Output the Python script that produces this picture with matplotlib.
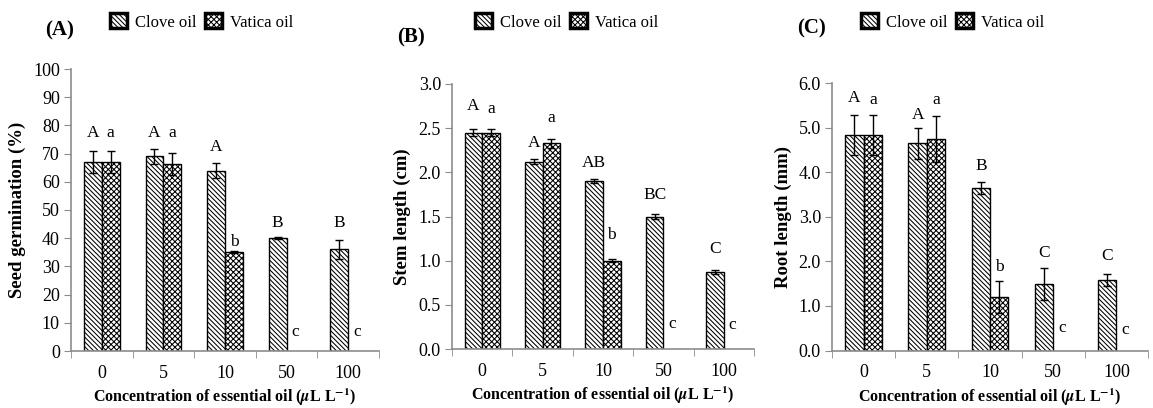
import numpy as np
import matplotlib
matplotlib.use('Agg')
import matplotlib.pyplot as plt
from matplotlib.patches import Patch
from matplotlib.ticker import FormatStrFormatter

plt.rcParams['font.family'] = ['Liberation Serif', 'DejaVu Serif']
plt.rcParams['mathtext.fontset'] = 'stix'
plt.rcParams['hatch.linewidth'] = 0.75

concentrations = ['0', '5', '10', '50', '100']

# (A) seed germination (%)
germ_clove = [67, 69, 64, 40, 36]
germ_clove_err = [3.9, 2.6, 2.5, 0.3, 3.2]
germ_vatica = [67, 66.3, 35, 0, 0]
germ_vatica_err = [3.9, 3.9, 0.3, 0, 0]
germ_clove_letters = ['A', 'A', 'A', 'B', 'B']
germ_clove_letter_y = [77.4, 77.4, 72.4, 45.3, 45.3]
germ_vatica_letters = ['a', 'a', 'b', 'c', 'c']
germ_vatica_letter_y = [77.4, 77.4, 38.8, 6.8, 6.8]

# (B) stem length (cm)
stem_clove = [2.45, 2.12, 1.90, 1.50, 0.87]
stem_clove_err = [0.04, 0.03, 0.02, 0.03, 0.02]
stem_vatica = [2.45, 2.33, 1.00, 0, 0]
stem_vatica_err = [0.04, 0.05, 0.02, 0, 0]
stem_clove_letters = ['A', 'A', 'AB', 'BC', 'C']
stem_clove_letter_y = [2.75, 2.33, 2.11, 1.74, 1.13]
stem_vatica_letters = ['a', 'a', 'b', 'c', 'c']
stem_vatica_letter_y = [2.72, 2.61, 1.29, 0.28, 0.27]

# (C) root length (mm)
root_clove = [4.83, 4.65, 3.65, 1.50, 1.58]
root_clove_err = [0.45, 0.35, 0.13, 0.36, 0.14]
root_vatica = [4.83, 4.75, 1.20, 0, 0]
root_vatica_err = [0.45, 0.52, 0.35, 0, 0]
root_clove_letters = ['A', 'A', 'B', 'C', 'C']
root_clove_letter_y = [5.66, 5.29, 4.13, 2.18, 2.11]
root_vatica_letters = ['a', 'a', 'b', 'c', 'c']
root_vatica_letter_y = [5.62, 5.62, 1.88, 0.50, 0.46]

CLOVE_HATCH = '\\' * 7
VATICA_HATCH = 'x' * 6
AXIS_GRAY = '#8c8c8c'
W = 0.29


def draw_panel(ax, clove, clove_err, vatica, vatica_err,
               c_letters, c_ly, v_letters, v_ly, ymax, ystep, fmt, ylabel):
    x = np.arange(len(concentrations))
    xc = x - W / 2
    xv = x + W / 2
    clove = np.array(clove)
    vatica = np.array(vatica)
    ax.bar(xc, clove, W, color='white', edgecolor='black', linewidth=1.0,
           hatch=CLOVE_HATCH, zorder=2)
    mask = vatica > 0
    ax.bar(xv[mask], vatica[mask], W, color='white', edgecolor='black',
           linewidth=1.0, hatch=VATICA_HATCH, zorder=2)
    ax.errorbar(xc, clove, yerr=clove_err, fmt='none', ecolor='black',
                elinewidth=1.0, capsize=3, capthick=1.0, zorder=3)
    ax.errorbar(xv[mask], vatica[mask], yerr=np.array(vatica_err)[mask],
                fmt='none', ecolor='black', elinewidth=1.0, capsize=3,
                capthick=1.0, zorder=3)
    for i in range(len(x)):
        ax.text(xc[i], c_ly[i], c_letters[i], ha='center', va='center',
                fontsize=12.5)
        ax.text(xv[i], v_ly[i], v_letters[i], ha='center', va='center',
                fontsize=12.5)

    ax.set_xlim(-0.5, len(x) - 0.5)
    ax.set_ylim(0, ymax)
    ax.set_yticks(np.arange(0, ymax + ystep / 2, ystep))
    ax.yaxis.set_major_formatter(FormatStrFormatter(fmt))
    ax.set_xticks(x)
    ax.set_xticklabels(concentrations)
    ax.set_xticks(np.arange(-0.5, len(x), 1.0), minor=True)
    ax.tick_params(axis='x', which='major', length=0, pad=10, labelsize=13)
    ax.tick_params(axis='x', which='minor', length=5, color=AXIS_GRAY,
                   direction='out')
    ax.tick_params(axis='y', length=5, color=AXIS_GRAY, labelsize=13, pad=3)
    for s in ['top', 'right']:
        ax.spines[s].set_visible(False)
    for s in ['left', 'bottom']:
        ax.spines[s].set_color(AXIS_GRAY)
        ax.spines[s].set_linewidth(1.2)
    ax.set_xlabel(r'Concentration of essential oil ($\boldsymbol{\mu}$L L$^{\mathbf{-1}}$)',
                  fontsize=11.5, fontweight='bold', labelpad=3.5)
    ax.set_ylabel(ylabel, fontsize=13.5, fontweight='bold', labelpad=5)


fig = plt.figure(figsize=(11.53, 4.08), dpi=100)
axA = fig.add_axes([71 / 1153, 57 / 408, 308 / 1153, 282 / 408])
axB = fig.add_axes([452 / 1153, 59 / 408, 302 / 1153, 265 / 408])
axC = fig.add_axes([832 / 1153, 57.5 / 408, 316 / 1153, 267.5 / 408])

draw_panel(axA, germ_clove, germ_clove_err, germ_vatica, germ_vatica_err,
           germ_clove_letters, germ_clove_letter_y,
           germ_vatica_letters, germ_vatica_letter_y,
           100, 10, '%d', 'Seed germination (%)')
draw_panel(axB, stem_clove, stem_clove_err, stem_vatica, stem_vatica_err,
           stem_clove_letters, stem_clove_letter_y,
           stem_vatica_letters, stem_vatica_letter_y,
           3.0, 0.5, '%.1f', 'Stem length (cm)')
draw_panel(axC, root_clove, root_clove_err, root_vatica, root_vatica_err,
           root_clove_letters, root_clove_letter_y,
           root_vatica_letters, root_vatica_letter_y,
           6.0, 1.0, '%.1f', 'Root length (mm)')

# panel tags and legends
handles = [Patch(facecolor='white', edgecolor='black', linewidth=2.5,
                 hatch=CLOVE_HATCH, label='Clove oil'),
           Patch(facecolor='white', edgecolor='black', linewidth=2.5,
                 hatch=VATICA_HATCH, label='Vatica oil')]
for tag, tx, ty, lx in [('(A)', 45, 30, 110), ('(B)', 397, 37, 475),
                        ('(C)', 797, 28, 861)]:
    fig.text(tx / 1153, 1 - ty / 408, tag, fontsize=15, fontweight='bold',
             va='center', ha='left')
    fig.legend(handles=handles, loc='center left',
               bbox_to_anchor=(lx / 1153, 1 - 22 / 408), ncol=2,
               frameon=False, fontsize=12, handlelength=1.0,
               handleheight=1.0, handletextpad=0.5, columnspacing=0.5,
               borderpad=0, borderaxespad=0)

fig.savefig('out.png', dpi=100)
